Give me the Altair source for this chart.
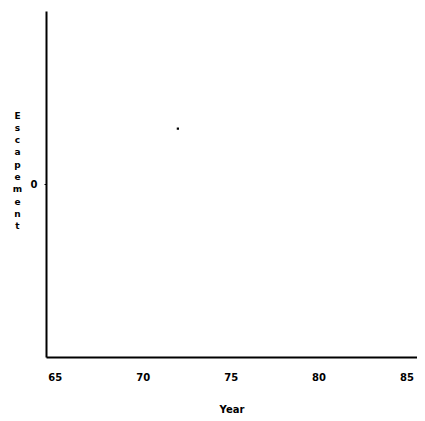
import altair as alt
import pandas as pd

years = [72]
escapement = [0.32]
x_ticks = [65, 70, 75, 80, 85]
y_ticks = [0]

df = pd.DataFrame({"Year": years, "Escapement": escapement})

FONT = "DejaVu Sans"

chart = alt.Chart(df).mark_square(size=5, color="black", opacity=1).encode(
    x=alt.X("Year:Q",
            scale=alt.Scale(domain=[64.5, 85.6], nice=False, zero=False),
            axis=alt.Axis(values=x_ticks, grid=False, ticks=False, domainColor="black",
                          domainWidth=2, labelPadding=15, labelFontSize=10,
                          labelFontWeight="bold", labelFont=FONT, labelColor="black",
                          title="Year", titleFont=FONT, titleFontSize=10,
                          titleFontWeight="bold", titleColor="black",
                          titleY=52, titleBaseline="middle")),
    y=alt.Y("Escapement:Q",
            scale=alt.Scale(domain=[-1, 1], nice=False, zero=False),
            axis=alt.Axis(values=y_ticks, grid=False, ticks=True, tickSize=2, tickColor="black",
                          domainColor="black", domainWidth=2, labelPadding=7,
                          labelFontSize=10, labelFontWeight="bold", labelFont=FONT,
                          labelColor="black",
                          title=list("Escapement"), titleAngle=360, titleFont=FONT,
                          titleFontSize=9, titleFontWeight="bold", titleColor="black",
                          titleLineHeight=12.3, titleAlign="center", titleBaseline="top",
                          titleX=-29, titleY=100)),
).properties(
    width=371, height=346,
    background="white",
    autosize=alt.AutoSizeParams(type="none"),
    padding={"left": 38, "top": 3, "right": 0, "bottom": 60},
).configure_view(strokeWidth=0, stroke="transparent")

chart.save("out.html", embed_options={"renderer": "svg", "actions": False})
